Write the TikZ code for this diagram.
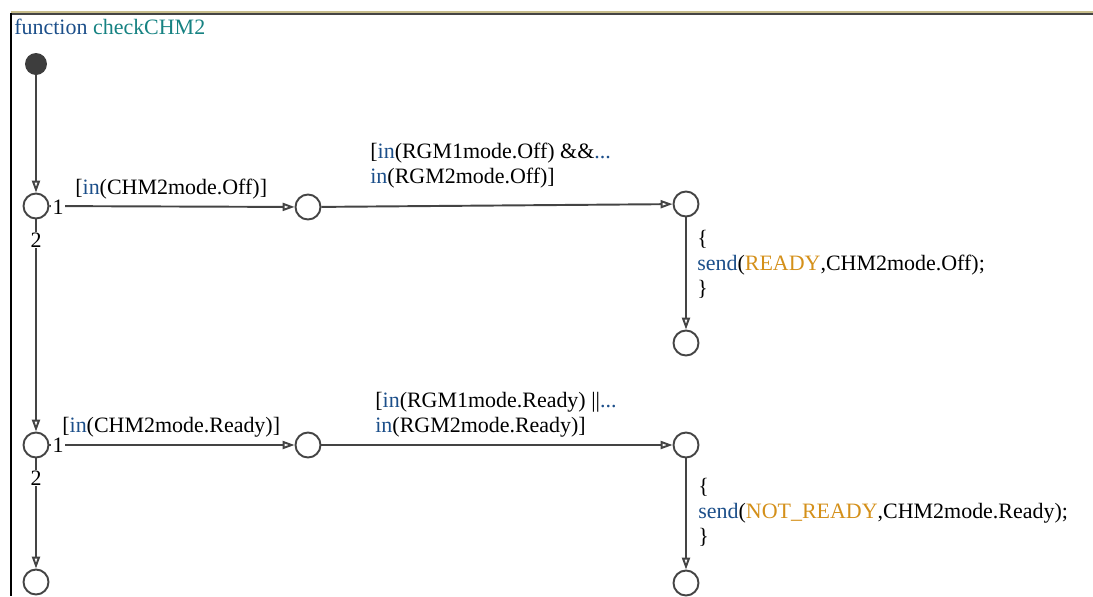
\documentclass[tikz,border=0pt]{standalone}
\usepackage{fontspec}
\setmainfont{Liberation Serif}
\usepackage{tikz}
\usetikzlibrary{arrows.meta, positioning}

\definecolor{kwblue}{HTML}{1C4F8A}
\definecolor{fnteal}{HTML}{168282}
\definecolor{evorange}{HTML}{D4901A}
\definecolor{linegray}{HTML}{444444}
\definecolor{frametan}{HTML}{C8BE8C}

\newcommand{\kw}[1]{\textcolor{kwblue}{#1}}
\newcommand{\ev}[1]{\textcolor{evorange}{#1}}

\tikzset{
  junc/.style={circle, draw=linegray, line width=1.1pt, minimum size=0.5cm, inner sep=0pt},
  startdot/.style={circle, fill=linegray!90!black, minimum size=0.44cm, inner sep=0pt},
  trans/.style={draw=linegray, line width=1.1pt, -{Triangle[open, length=6.8pt, width=4.6pt]}},
  lbl/.style={font=\fontsize{12.5pt}{14.2pt}\selectfont, inner sep=0pt, align=left},
  num/.style={font=\fontsize{12.5pt}{14.2pt}\selectfont, fill=white, inner sep=0.6pt}
}

\begin{document}
\begin{tikzpicture}[x=0.02cm, y=-0.02cm]
  \useasboundingbox (0,0) rectangle (1093,596);

  % Cornice
  \draw[frametan, line width=1pt] (11,12) -- (1093,12);
  \draw[linegray, line width=1pt] (11,14) -- (1093,14);
  \draw[black, line width=1.2pt] (11,13) -- (11,596);
  \node[lbl, anchor=base west] (title) at (14,34) {\kw{function} \textcolor{fnteal}{checkCHM2}};

  % Nodo iniziale
  \node[startdot] (init) at (36,64) {};

  % Giunzioni
  \node[junc] (J1) at (36,206) {};
  \node[junc] (J2) at (308,207) {};
  \node[junc] (J3) at (686,204) {};
  \node[junc] (J4) at (686,343) {};
  \node[junc] (J5) at (36,445) {};
  \node[junc] (J6) at (308,445) {};
  \node[junc] (J7) at (686,445) {};
  \node[junc] (J8) at (686,583) {};
  \node[junc] (J9) at (36,582) {};

  % Transizioni
  \draw[trans] (init) -- (J1);
  \draw[trans] (J1) -- (J2);
  \draw[trans] (J2) -- (J3);
  \draw[trans] (J3) -- (J4);
  \draw[trans] (J1) -- (J5);
  \draw[trans] (J5) -- (J6);
  \draw[trans] (J6) -- (J7);
  \draw[trans] (J7) -- (J8);
  \draw[trans] (J5) -- (J9);

  % Ordine di esecuzione
  \node[num] (o11) at (58,207) {1};
  \node[num] (o12) at (36,240) {2};
  \node[num] (o21) at (58,445) {1};
  \node[num] (o22) at (36,478) {2};

  % Etichette
  \node[lbl, anchor=base west] (c1) at (75,194) {[\kw{in}(CHM2mode.Off)]};
  \node[lbl, anchor=base west] (c2a) at (370,158) {[\kw{in}(RGM1mode.Off) \&\&\kw{...}};
  \node[lbl, anchor=base west] (c2b) at (370,183) {\kw{in}(RGM2mode.Off)]};
  \node[lbl, anchor=base west] (a1) at (697,245) {\{};
  \node[lbl, anchor=base west] (a1b) at (697,270) {\kw{send}(\ev{READY},CHM2mode.Off);};
  \node[lbl, anchor=base west] (a1c) at (697,295) {\}};

  \node[lbl, anchor=base west] (c3) at (62,432) {[\kw{in}(CHM2mode.Ready)]};
  \node[lbl, anchor=base west] (c4a) at (375,407) {[\kw{in}(RGM1mode.Ready) ||\kw{...}};
  \node[lbl, anchor=base west] (c4b) at (375,432) {\kw{in}(RGM2mode.Ready)]};
  \node[lbl, anchor=base west] (a2) at (698,493) {\{};
  \node[lbl, anchor=base west] (a2b) at (698,518) {\kw{send}(\ev{NOT\_READY},CHM2mode.Ready);};
  \node[lbl, anchor=base west] (a2c) at (698,543) {\}};
\end{tikzpicture}
\end{document}
